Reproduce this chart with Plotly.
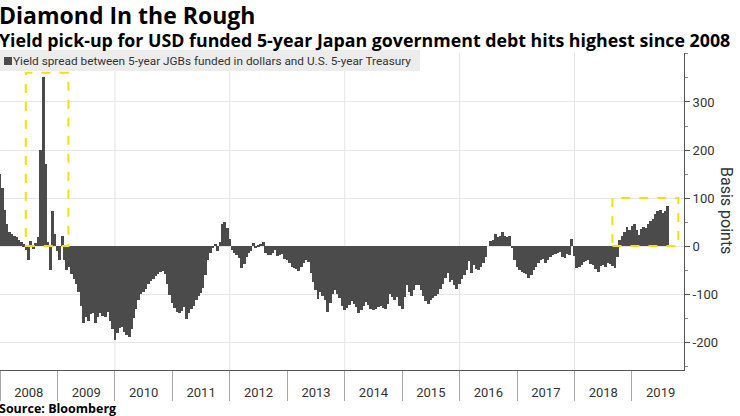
import pandas as pd
import plotly.graph_objects as go

title = "Diamond In the Rough"
subtitle = "Yield pick-up for USD funded 5-year Japan government debt hits highest since 2008"
series_name = "Yield spread between 5-year JGBs funded in dollars and U.S. 5-year Treasury"
source_text = "Source: Bloomberg"
y_title = "Basis points"

# Semi-monthly readings (basis points), starting 2008-01-01
v2008 = [150, 120, 75, 45, 30, 25, 22, 18, 12, 8, 4, -8, -28, 10, -6, 6, 18, 200, 353, 170, 8, -50, 74, 25]
v2009 = [-10, -30, 20, -30, -50, -44, -58, -68, -78, -95, -125, -160, -148, -155, -142, -140, -161, -148, -140, -145, -148, -138, -155, -172]
v2010 = [-196, -180, -170, -169, -178, -185, -189, -172, -150, -130, -112, -100, -95, -90, -78, -72, -68, -63, -58, -54, -51, -58, -78, -102]
v2011 = [-118, -128, -138, -140, -135, -127, -152, -140, -132, -125, -113, -104, -97, -88, -60, -30, -15, -5, 5, -10, 8, 45, 50, 38]
v2012 = [15, -9, -14, -18, -24, -45, -37, -22, -15, -10, 6, -2, 3, 5, 8, -15, -19, -18, -14, -9, -20, -18, -16, -26]
v2013 = [-30, -35, -44, -46, -47, -51, -44, -36, -30, -33, -55, -75, -92, -110, -96, -103, -112, -138, -118, -100, -92, -99, -108, -125]
v2014 = [-134, -128, -122, -115, -120, -126, -140, -134, -124, -117, -122, -131, -134, -130, -127, -124, -128, -131, -120, -100, -105, -113, -106, -125]
v2015 = [-130, -106, -82, -95, -104, -92, -82, -80, -92, -104, -115, -120, -113, -108, -103, -99, -90, -78, -66, -56, -75, -71, -82, -89]
v2016 = [-78, -68, -60, -50, -32, -55, -40, -48, -50, -44, -36, -22, 0, 10, 12, 26, 19, 20, 30, 20, 19, 22, -5, -30]
v2017 = [-44, -50, -53, -55, -58, -66, -60, -50, -44, -35, -28, -26, -35, -30, -22, -19, -17, -15, -12, -22, -24, -16, -19, 14]
v2018 = [-20, -45, -43, -40, -34, -32, -30, -38, -40, -48, -53, -42, -40, -43, -36, -38, -42, -46, -22, 12, 20, 30, 40, 34]
v2019 = [42, 45, 33, 24, 36, 40, 37, 45, 52, 57, 66, 73, 75, 68, 74, 84]

values = v2008 + v2009 + v2010 + v2011 + v2012 + v2013 + v2014 + v2015 + v2016 + v2017 + v2018 + v2019
dates = pd.date_range("2008-01-01", periods=len(values), freq="SMS")

x_range = ["2008-01-01", "2019-11-28"]
y_range = [-258, 402]
y_tickvals = [-200, -100, 0, 100, 200, 300]
y_ticktext = ["-200", "-100", "0", "100", "200", "300"]
grid_dates = ["2010-01-01", "2012-01-01", "2014-01-01", "2016-01-01", "2018-01-01"]
# highlighted boxes: (start, end, low, high)
boxes = [("2008-06-13", "2009-03-11", 0, 361), ("2018-08-30", "2019-10-23", 0, 100)]

W, H = 740, 416
ML, MR, MT, MB = 0, 56, 53, 46
PW, PH = W - ML - MR, H - MT - MB


def px_y(p):
    return (H - MB - p) / PH


def px_x(p):
    return (p - ML) / PW


BAR = "#4b4b4b"
TXT = "#333333"
REG = "Roboto, Arial, sans-serif"
BOLD = "Open Sans, Arial, sans-serif"

fig = go.Figure()
fig.add_bar(x=dates, y=values, name=series_name, width=18 * 86400000,
            marker=dict(color=BAR, line=dict(width=0)), showlegend=False)

for g in grid_dates:
    fig.add_shape(type="line", xref="x", yref="paper", x0=g, x1=g, y0=0, y1=1,
                  line=dict(color="#e4e4e4", width=1), layer="below")

for x0, x1, y0, y1 in boxes:
    fig.add_shape(type="rect", xref="x", yref="y", x0=x0, x1=x1, y0=y0, y1=y1,
                  line=dict(color="#f2e200", width=2, dash="dash"),
                  fillcolor="rgba(0,0,0,0)", layer="above")

# legend band
fig.add_shape(type="rect", xref="paper", yref="paper", x0=0, x1=px_x(420),
              y0=px_y(71), y1=px_y(50), fillcolor="#ececec", line=dict(width=0), layer="above")
fig.add_shape(type="rect", xref="paper", yref="paper", x0=px_x(4), x1=px_x(12),
              y0=px_y(65), y1=px_y(57), fillcolor=BAR, line=dict(width=0), layer="above")

annotations = [
    dict(text="<b>" + title + "</b>", x=0, y=px_y(15.2), font=dict(family=BOLD, size=23, color="#000")),
    dict(text="<b>" + subtitle + "</b>", x=0, y=px_y(39.5), font=dict(family=BOLD, size=17.8, color="#000")),
    dict(text=series_name, x=px_x(14), y=px_y(61), font=dict(family=REG, size=11.8, color=TXT)),
    dict(text="<b>" + source_text + "</b>", x=0, y=px_y(409), font=dict(family=BOLD, size=12.5, color="#000")),
]
for a in annotations:
    a.update(xref="paper", yref="paper", xanchor="left", yanchor="middle", showarrow=False,
             xshift=-2, borderpad=0)
annotations.append(dict(text=y_title, xref="paper", yref="paper", x=px_x(727), y=px_y(210),
                        textangle=90, showarrow=False, xanchor="center", yanchor="middle",
                        font=dict(family=REG, size=16, color=TXT)))

fig.update_layout(
    width=W, height=H,
    margin=dict(l=ML, r=MR, t=MT, b=MB),
    paper_bgcolor="white", plot_bgcolor="white",
    bargap=0,
    annotations=annotations,
    xaxis=dict(type="date", range=x_range, tickmode="linear", tick0="2008-01-01", dtick="M12",
               ticklabelmode="period", tickformat="%Y", ticks="outside", ticklen=30,
               tickcolor="#a8a8a8", tickwidth=1, showgrid=False, showline=True,
               linecolor="#555555", linewidth=1, zeroline=False,
               tickfont=dict(family=REG, size=13, color=TXT), ticklabelstandoff=-20),
    yaxis=dict(side="right", range=y_range, tickmode="array", tickvals=y_tickvals,
               ticktext=y_ticktext, ticks="outside", ticklen=5, tickcolor="#555555",
               showline=True, linecolor="#555555", linewidth=1, showgrid=True,
               gridcolor="#e6e6e6", zeroline=False,
               tickfont=dict(family=REG, size=13, color=TXT),
               minor=dict(tickmode="linear", tick0=0, dtick=50, ticks="outside", ticklen=3,
                          tickcolor="#888888", showgrid=False)),
)

fig.write_html("out.html", config={"displayModeBar": False},
               post_script="document.body.style.margin='0';")
